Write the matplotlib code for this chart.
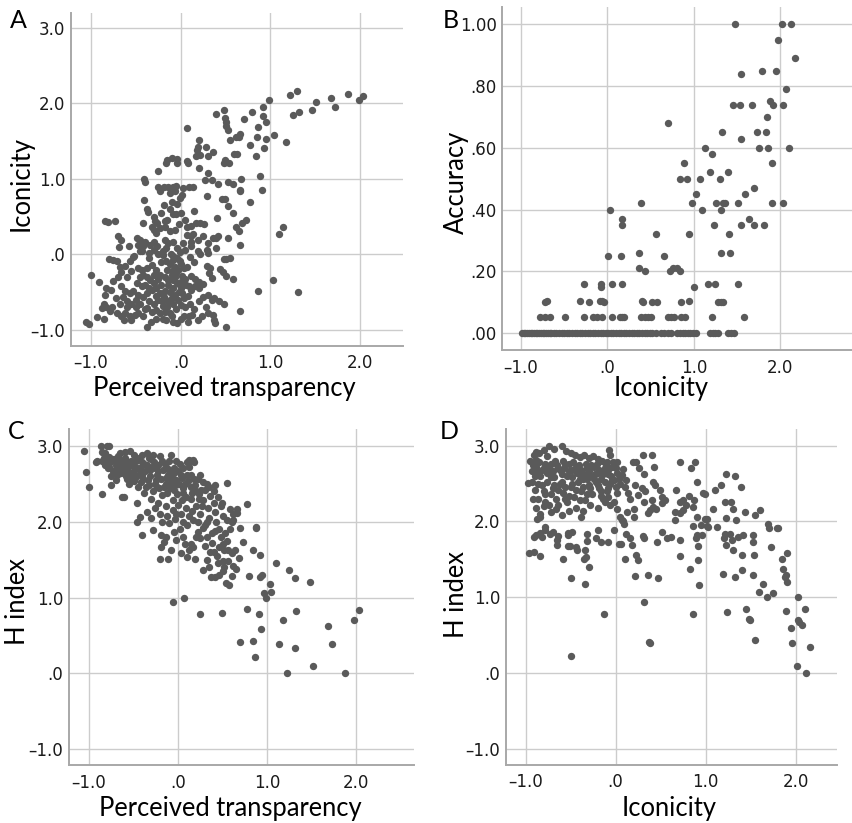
import numpy as np
import matplotlib
matplotlib.use("Agg")
import matplotlib.pyplot as plt

# ---- data ----
# A: Iconicity vs Perceived transparency
a_pts = [
    (-0.41, 1.00), (-0.25, 1.10), (-0.16, 1.21), (-0.15, 1.25), (-0.10, 1.28), (-0.04, 1.27), (-0.04, 1.21),
    (0.07, 1.68), (0.07, 1.24), (0.08, 1.21), (0.20, 1.52), (0.19, 1.43), (0.18, 1.39), (0.17, 1.31), (0.22, 1.32),
    (0.28, 1.42), (0.30, 1.31), (0.36, 1.36), (0.21, 1.14), (0.31, 1.08), (0.27, 0.98), (0.35, 0.99), (0.42, 0.93),
    (0.39, 1.86), (0.48, 1.91), (0.49, 1.81), (0.51, 1.75), (0.51, 1.70), (0.53, 1.65), (0.55, 1.52), (0.62, 1.55),
    (0.65, 1.56), (0.66, 1.59), (0.59, 1.33), (0.63, 1.33), (0.48, 1.21), (0.50, 1.25), (0.54, 1.21), (0.53, 0.96),
    (0.58, 0.93), (0.67, 1.00), (0.71, 1.79), (0.80, 1.89), (0.77, 1.45), (0.84, 1.31), (0.85, 1.56), (0.86, 1.69),
    (0.88, 1.04), (0.92, 1.95), (0.92, 1.84), (0.95, 1.75), (0.98, 2.04), (0.95, 1.53), (0.93, 1.41), (1.04, 1.58),
    (1.17, 1.49), (1.22, 2.11), (1.30, 2.17), (1.25, 1.85), (1.32, 1.89), (1.47, 1.91), (1.51, 2.02), (1.68, 2.07),
    (1.72, 1.96), (1.87, 2.12), (1.99, 2.04), (2.03, 2.10),
    (-0.40, 0.96), (-0.25, 0.89), (-0.19, 0.89), (-0.14, 0.90), (-0.09, 0.89), (-0.05, 0.91), (0.03, 0.88),
    (0.09, 0.89), (0.14, 0.89), (0.66, 0.86), (0.91, 0.86),
    (-0.23, 0.84), (-0.12, 0.81), (-0.06, 0.84), (0.02, 0.79), (-0.01, 0.75), (0.29, 0.77), (0.46, 0.73),
    (0.49, 0.73), (0.66, 0.84), (0.77, 0.70), (-0.41, 0.72), (-0.19, 0.66), (-0.10, 0.70), (-0.04, 0.67),
    (-0.36, 0.56), (-0.08, 0.53), (-0.05, 0.53), (0.15, 0.57), (0.40, 0.48), (0.53, 0.64), (0.58, 0.55),
    (-0.84, 0.44), (-0.81, 0.43), (-0.73, 0.44), (-0.42, 0.42), (-0.29, 0.44), (-0.26, 0.42), (-0.32, 0.37),
    (-0.30, 0.33), (-0.23, 0.35), (-0.27, 0.28), (-0.17, 0.44), (-0.15, 0.46), (-0.17, 0.37), (-0.12, 0.31),
    (-0.06, 0.33), (0.07, 0.37), (0.12, 0.38), (0.17, 0.42), (0.22, 0.42), (0.26, 0.40), (0.07, 0.26), (0.12, 0.24),
    (0.14, 0.27), (0.12, 0.17), (0.19, 0.19), (0.36, 0.22), (0.39, 0.22), (0.42, 0.24), (0.53, 0.22), (0.62, 0.37),
    (0.68, 0.42), (0.73, 0.46), (0.65, 0.31), (0.66, 0.12), (1.10, 0.27), (1.14, 0.37),
    (-0.70, 0.25), (-0.66, 0.19), (-0.69, 0.10), (-0.58, 0.11), (-0.49, 0.22), (-0.45, 0.19), (-0.40, 0.17),
    (-0.47, 0.13), (-0.42, 0.11), (-0.30, 0.17), (-0.34, 0.13), (-0.26, 0.11), (-0.30, 0.06), (-0.17, 0.19),
    (-0.14, 0.15), (-0.16, 0.08), (-0.08, 0.17), (-0.04, 0.08), (0.03, 0.15), (0.05, 0.06), (0.11, 0.11),
    (0.19, 0.04), (0.22, 0.00), (0.29, 0.06), (0.31, 0.02), (0.39, 0.08), (0.48, -0.06), (0.51, -0.06), (0.55, -0.05),
    (-0.38, 0.60), (-0.43, 0.04), (-0.52, -0.02), (-0.35, 0.02), (-0.20, -0.01), (-0.25, 0.00), (-0.11, 0.00),
    (-0.01, 0.03), (0.10, -0.04), (0.15, -0.10),
    (-0.80, -0.06), (-0.75, -0.07), (-0.71, -0.09), (-0.68, -0.16), (-0.66, -0.23), (-0.57, -0.09), (-0.53, -0.04),
    (-0.48, -0.18), (-0.43, -0.20), (-0.38, -0.18), (-0.42, -0.27), (-0.32, -0.14), (-0.27, -0.20), (-0.30, -0.27),
    (-0.23, -0.27), (-0.16, -0.09), (-0.12, -0.12), (-0.08, -0.07), (-0.04, -0.05), (-0.01, -0.09), (-0.06, -0.17),
    (-0.10, -0.22), (-0.03, -0.20), (0.04, -0.18), (0.07, -0.16), (0.12, -0.29), (0.16, -0.33), (0.21, -0.36),
    (0.25, -0.39), (0.29, -0.15), (0.33, -0.18), (0.32, -0.25), (0.35, -0.31), (0.44, -0.19), (0.47, -0.23),
    (0.51, -0.29), (0.58, -0.33), (1.03, -0.34),
    (0.00, -0.36), (0.02, -0.29), (-0.08, -0.34), (-0.14, -0.34), (-0.10, -0.27), (-0.05, -0.25), (-0.18, -0.30),
    (0.05, -0.33),
    (-1.00, -0.27), (-0.91, -0.37), (-0.83, -0.45), (-0.78, -0.47), (-0.84, -0.54), (-0.86, -0.65), (-0.83, -0.69),
    (-0.77, -0.69), (-0.66, -0.42), (-0.62, -0.49), (-0.57, -0.51), (-0.53, -0.49), (-0.64, -0.56), (-0.60, -0.61),
    (-0.49, -0.38), (-0.43, -0.42), (-0.47, -0.54), (-0.42, -0.57), (-0.37, -0.51), (-0.34, -0.34), (-0.30, -0.38),
    (-0.32, -0.47), (-0.27, -0.45), (-0.23, -0.51), (-0.19, -0.56), (-0.21, -0.62), (-0.16, -0.60),
    (-0.14, -0.40), (-0.08, -0.44), (-0.04, -0.38), (-0.01, -0.40), (-0.10, -0.58), (-0.06, -0.54), (-0.03, -0.60),
    (0.01, -0.51), (0.04, -0.58), (0.09, -0.42), (0.12, -0.47), (0.16, -0.42), (0.21, -0.45), (0.25, -0.56),
    (0.31, -0.54), (0.35, -0.60), (0.37, -0.58), (0.43, -0.62), (0.48, -0.65), (0.86, -0.49), (1.31, -0.50),
    (0.66, -0.75),
    (-0.55, -0.65), (-0.50, -0.70), (-0.45, -0.66), (-0.40, -0.72), (-0.35, -0.62), (-0.30, -0.66), (-0.25, -0.60),
    (-0.20, -0.68), (-0.15, -0.70), (-0.09, -0.66), (-0.05, -0.72), (0.00, -0.67), (0.05, -0.70), (0.10, -0.65),
    (0.15, -0.72), (0.20, -0.62), (0.28, -0.70), (0.30, -0.78), (0.24, -0.82), (-0.72, -0.58), (-0.75, -0.35),
    (-0.70, -0.30), (-0.60, -0.30), (-0.55, -0.22), (-0.62, -0.15),
    (-0.88, -0.71), (-0.79, -0.75), (-0.71, -0.78), (-0.66, -0.81), (-0.93, -0.83), (-0.86, -0.85), (-1.05, -0.89),
    (-1.02, -0.92), (-0.62, -0.78), (-0.57, -0.82), (-0.51, -0.80), (-0.47, -0.78), (-0.42, -0.82), (-0.63, -0.87),
    (-0.55, -0.87), (-0.38, -0.96), (-0.37, -0.71), (-0.32, -0.76), (-0.27, -0.73), (-0.23, -0.78), (-0.17, -0.76),
    (-0.12, -0.78), (-0.16, -0.87), (-0.08, -0.89), (-0.04, -0.91), (-0.10, -0.82), (0.04, -0.81), (0.09, -0.82),
    (0.13, -0.80), (0.19, -0.87), (0.36, -0.80), (0.38, -0.91), (0.37, -0.87), (0.51, -0.96),
    (-0.45, -0.30), (-0.40, -0.40), (-0.35, -0.45), (-0.28, -0.55), (-0.22, -0.40), (-0.18, -0.48), (-0.12, -0.50),
    (-0.06, -0.30), (0.00, -0.45), (0.06, -0.40), (-0.25, -0.32), (-0.38, -0.30), (-0.50, -0.60), (-0.60, -0.70),
    (-0.68, -0.66), (-0.20, -0.85), (-0.28, -0.85), (-0.33, -0.90), (0.00, -0.85), (0.08, -0.90), (-0.13, -0.62),
    (-0.02, -0.50), (0.08, -0.55), (-0.15, -0.20), (-0.22, -0.10), (-0.35, -0.05), (-0.45, 0.05), (-0.20, 0.05),
    (-0.08, -0.02), (0.00, -0.12), (-0.30, 0.50), (-0.22, 0.55), (-0.12, 0.60), (0.00, 0.55), (0.05, 0.45),
    (-0.02, 0.40), (0.25, 0.25), (0.30, 0.15),
]

# B: Accuracy vs Iconicity
b_pts = [
    (1.48, 1.00), (2.02, 1.00), (2.12, 1.00), (1.97, 0.95), (2.17, 0.89), (1.55, 0.84), (1.79, 0.85), (1.95, 0.85),
    (2.07, 0.79), (1.45, 0.74), (1.53, 0.74), (1.67, 0.74), (1.88, 0.75), (1.91, 0.74), (2.03, 0.74), (1.85, 0.70),
    (0.70, 0.68), (1.33, 0.65), (1.73, 0.65), (1.84, 0.65), (1.54, 0.63), (1.13, 0.60), (1.75, 0.60), (1.86, 0.60),
    (2.10, 0.60), (1.21, 0.58), (0.89, 0.55), (1.90, 0.55), (0.84, 0.50), (0.92, 0.50), (1.07, 0.50), (1.30, 0.50),
    (1.19, 0.52), (1.39, 0.52), (1.69, 0.47), (1.03, 0.45), (1.59, 0.45), (0.03, 0.40), (0.39, 0.42), (0.98, 0.42),
    (1.09, 0.40), (1.26, 0.42), (1.31, 0.40), (1.34, 0.42), (1.36, 0.42), (1.51, 0.42), (1.90, 0.42), (2.03, 0.42),
    (1.23, 0.35), (1.41, 0.32), (1.55, 0.35), (1.64, 0.37), (1.69, 0.35), (1.81, 0.35), (0.17, 0.37), (0.17, 0.35),
    (0.56, 0.32), (0.94, 0.32), (0.01, 0.25), (0.16, 0.25), (0.37, 0.26), (1.31, 0.26), (1.42, 0.26), (0.66, 0.25),
    (0.37, 0.21), (0.43, 0.20), (0.72, 0.20), (0.76, 0.21), (0.80, 0.21), (0.84, 0.20),
    (1.00, 0.15), (-0.27, 0.16), (-0.07, 0.15), (-0.07, 0.16), (0.05, 0.16), (0.17, 0.16), (1.16, 0.16),
    (1.24, 0.16), (1.51, 0.16),
    (-0.32, 0.105), (-0.21, 0.10), (-0.09, 0.105), (-0.06, 0.105), (-0.04, 0.10), (-0.72, 0.10), (-0.70, 0.105),
    (0.40, 0.105), (0.41, 0.10), (0.51, 0.10), (0.57, 0.10), (0.85, 0.10), (0.94, 0.105), (1.28, 0.10),
    (1.31, 0.10), (1.34, 0.10),
]
b_row05 = [-0.78, -0.72, -0.67, -0.49, -0.27, -0.17, -0.12, -0.06, 0.05, 0.14, 0.17, 0.19, 0.39, 0.43, 0.47,
           0.50, 0.70, 0.74, 0.77, 0.85, 0.90, 1.21, 1.58]
b_row00 = [-0.99, -0.97, -0.95, -0.93, -0.91, -0.89, -0.87, -0.85, -0.83, -0.81, -0.79, -0.77, -0.75, -0.73,
           -0.71, -0.69, -0.67, -0.65, -0.62, -0.59, -0.56, -0.53, -0.50, -0.47, -0.44, -0.41, -0.38, -0.35,
           -0.32, -0.29, -0.26, -0.23, -0.20, -0.17, -0.14, -0.11, -0.08, -0.05, -0.02, 0.01, 0.04, 0.07, 0.10,
           0.13, 0.16, 0.19, 0.22, 0.25, 0.28, 0.31, 0.34, 0.37, 0.40, 0.43, 0.46, 0.49, 0.52, 0.56, 0.62, 0.66,
           0.70, 0.73, 0.81, 0.84, 0.87, 0.90, 0.93, 0.96, 0.99, 1.02, 1.19, 1.22, 1.25, 1.28, 1.40, 1.43, 1.46]

# C: H index vs Perceived transparency
c_pts = [
    (-1.06, 2.93), (-1.03, 2.65), (-1.00, 2.46), (-0.92, 2.78), (-0.91, 2.80), (-0.86, 3.00), (-0.80, 3.00),
    (-0.77, 2.99), (-0.85, 2.92), (-0.82, 2.90), (-0.85, 2.36), (-0.75, 2.48), (-0.63, 2.33), (-0.61, 2.33),
    (-0.65, 2.90), (-0.60, 2.92), (-0.54, 2.93),
    (-0.85, 2.80), (-0.82, 2.74), (-0.79, 2.70), (-0.76, 2.78), (-0.73, 2.66), (-0.70, 2.74), (-0.68, 2.62),
    (-0.66, 2.70), (-0.63, 2.78), (-0.61, 2.66), (-0.58, 2.60), (-0.56, 2.72), (-0.53, 2.80), (-0.51, 2.65),
    (-0.48, 2.58), (-0.46, 2.70), (-0.44, 2.84), (-0.42, 2.52), (-0.40, 2.62), (-0.38, 2.76), (-0.36, 2.45),
    (-0.34, 2.55), (-0.32, 2.68), (-0.30, 2.82), (-0.28, 2.40), (-0.26, 2.50), (-0.24, 2.62), (-0.22, 2.74),
    (-0.20, 2.86), (-0.18, 2.35), (-0.16, 2.46), (-0.14, 2.58), (-0.12, 2.70), (-0.10, 2.80), (-0.08, 2.88),
    (-0.06, 2.28), (-0.04, 2.42), (-0.02, 2.55), (0.00, 2.66), (0.02, 2.76), (0.05, 2.38), (0.08, 2.50),
    (0.10, 2.62), (0.12, 2.72), (0.15, 2.45), (0.18, 2.56), (0.20, 2.40), (-0.75, 2.60), (-0.70, 2.55),
    (-0.55, 2.50), (-0.50, 2.88), (-0.40, 2.88), (-0.35, 2.90), (-0.28, 2.88), (-0.24, 2.45), (-0.12, 2.38),
    (-0.08, 2.52), (-0.04, 2.64), (0.04, 2.58), (0.10, 2.78), (0.13, 2.80), (-0.60, 2.84), (-0.66, 2.82),
    (-0.72, 2.83), (-0.78, 2.85), (-0.57, 2.56), (-0.45, 2.45), (-0.38, 2.38), (-0.30, 2.30), (-0.22, 2.25),
    (-0.14, 2.20), (0.42, 2.48), (0.32, 2.50), (0.25, 2.61), (0.18, 2.79), (0.12, 2.81), (0.17, 2.81),
    (0.49, 2.24), (0.58, 2.17), (0.62, 2.02),
    (-0.83, 2.84), (-0.80, 2.78), (-0.77, 2.72), (-0.74, 2.82), (-0.71, 2.68), (-0.69, 2.78), (-0.67, 2.86),
    (-0.64, 2.64), (-0.62, 2.74), (-0.59, 2.80), (-0.57, 2.68), (-0.54, 2.76), (-0.52, 2.58), (-0.49, 2.72),
    (-0.47, 2.80), (-0.45, 2.62), (-0.43, 2.70), (-0.41, 2.78), (-0.39, 2.56), (-0.37, 2.66), (-0.35, 2.74),
    (-0.33, 2.48), (-0.31, 2.60), (-0.29, 2.72), (-0.27, 2.78), (-0.25, 2.55), (-0.23, 2.66), (-0.21, 2.44),
    (-0.19, 2.56), (-0.17, 2.68), (-0.15, 2.76), (-0.13, 2.50), (-0.11, 2.62), (-0.09, 2.44), (-0.07, 2.58),
    (-0.05, 2.70), (-0.03, 2.48), (-0.01, 2.36), (0.01, 2.50), (0.03, 2.62), (0.06, 2.44), (0.09, 2.32),
    (0.11, 2.54), (0.14, 2.62), (0.16, 2.38), (0.19, 2.48), (0.22, 2.56), (0.24, 2.30), (0.26, 2.42),
    (-0.65, 2.76), (-0.55, 2.64), (-0.50, 2.54), (-0.42, 2.66), (-0.33, 2.84), (-0.26, 2.70), (-0.18, 2.80),
    (-0.10, 2.68), (-0.02, 2.80), (0.06, 2.70),
    (-0.46, 2.25), (-0.43, 2.06), (-0.46, 2.00), (-0.35, 2.12), (-0.30, 2.05), (-0.26, 2.18), (-0.20, 2.10),
    (-0.18, 2.00), (-0.12, 2.08), (-0.10, 1.98), (-0.06, 2.15), (-0.03, 2.04), (0.00, 2.22), (0.03, 2.10),
    (0.06, 2.00), (0.09, 2.18), (0.12, 2.08), (0.14, 2.30), (0.17, 2.02), (0.20, 2.20), (0.23, 2.36),
    (0.25, 2.10), (0.28, 2.28), (0.30, 2.42), (0.32, 2.00), (0.34, 2.18), (0.36, 2.34), (0.40, 2.25),
    (0.42, 2.12), (0.45, 2.32), (0.48, 2.20), (0.50, 2.08), (0.55, 2.51), (0.66, 2.17), (0.66, 2.11),
    (0.77, 2.23), (0.60, 2.00), (0.62, 2.10), (0.55, 2.02), (0.40, 2.40), (0.35, 2.46), (0.28, 2.52),
    (-0.02, 2.10), (0.04, 2.28), (0.10, 1.95), (0.16, 2.14), (0.22, 2.00), (0.27, 2.20), (0.30, 1.95),
    (0.35, 2.05), (0.38, 1.85), (0.43, 2.00), (0.46, 1.90), (0.50, 1.70), (0.53, 1.85), (0.56, 1.62),
    (0.40, 1.60), (0.33, 1.50), (0.45, 1.45), (0.50, 1.35), (0.56, 1.48), (0.62, 1.42), (0.68, 1.52),
    (0.35, 1.40), (0.20, 1.80), (0.12, 1.62), (-0.08, 1.62), (0.03, 1.58),
    (-0.40, 1.83), (-0.28, 1.89), (-0.19, 1.82), (-0.19, 1.67), (-0.20, 1.51), (-0.11, 1.51), (-0.16, 1.73),
    (-0.13, 1.80), (-0.05, 1.86), (-0.02, 1.76), (0.02, 1.90), (0.05, 1.80), (0.08, 1.70), (0.10, 1.54),
    (0.19, 1.51), (0.17, 1.67), (0.15, 1.71), (0.22, 1.86), (0.25, 1.78), (0.28, 1.92), (0.30, 1.68),
    (0.33, 1.80), (0.36, 1.60), (0.38, 1.72), (0.41, 1.88), (0.44, 1.55), (0.46, 1.66), (0.48, 1.80),
    (0.50, 1.48), (0.52, 1.62), (0.55, 1.75), (0.58, 1.90), (0.60, 1.58), (0.52, 1.40), (0.64, 1.62),
    (0.73, 1.73), (0.70, 1.92), (0.84, 1.62), (0.88, 1.91), (0.87, 1.93), (0.92, 1.56), (0.28, 1.36),
    (0.37, 1.27), (0.41, 1.27), (0.46, 1.30), (0.54, 1.19), (0.57, 1.17), (0.60, 1.29), (0.65, 1.37),
    (0.80, 1.28), (0.92, 1.27), (0.94, 1.30), (1.03, 1.18), (1.04, 1.07), (0.97, 1.06), (0.99, 1.00),
    (1.10, 1.46), (1.25, 1.36), (1.31, 1.26), (1.48, 1.20), (-0.06, 0.94), (0.07, 1.00), (0.25, 0.78),
    (0.49, 0.80), (0.77, 0.85), (0.91, 0.78), (1.18, 0.71), (1.32, 0.82), (2.03, 0.84), (1.98, 0.70),
    (0.93, 0.58), (0.70, 0.41), (0.84, 0.43), (0.86, 0.21), (1.13, 0.39), (1.31, 0.34), (1.22, 0.00),
    (1.52, 0.10), (1.68, 0.63), (1.73, 0.39), (1.87, 0.00),
]

# D: H index vs Iconicity
d_pts = [
    (-0.97, 2.51), (-0.93, 2.52), (-0.89, 2.92), (-0.91, 2.88), (-0.89, 2.81), (-0.85, 2.90), (-0.74, 3.00),
    (-0.60, 3.00), (-0.80, 2.94), (-0.68, 2.96), (-0.55, 2.93), (-0.50, 2.90), (-0.45, 2.87), (-0.40, 2.85),
    (-0.35, 2.88), (-0.30, 2.84), (-0.25, 2.86), (-0.20, 2.82), (-0.15, 2.80), (-0.10, 2.78), (-0.07, 2.94),
    (-0.06, 2.88),
    (-0.93, 2.66), (-0.88, 2.72), (-0.84, 2.60), (-0.80, 2.70), (-0.76, 2.64), (-0.72, 2.76), (-0.68, 2.58),
    (-0.64, 2.70), (-0.60, 2.62), (-0.56, 2.76), (-0.52, 2.66), (-0.48, 2.58), (-0.44, 2.72), (-0.40, 2.62),
    (-0.36, 2.56), (-0.32, 2.70), (-0.28, 2.60), (-0.24, 2.72), (-0.20, 2.64), (-0.16, 2.56), (-0.12, 2.70),
    (-0.08, 2.62), (-0.04, 2.72), (-0.02, 2.55), (0.02, 2.64), (0.05, 2.50),
    (-0.90, 2.42), (-0.86, 2.30), (-0.82, 2.48), (-0.78, 2.36), (-0.74, 2.22), (-0.70, 2.44), (-0.66, 2.30),
    (-0.62, 2.50), (-0.58, 2.38), (-0.54, 2.25), (-0.50, 2.46), (-0.46, 2.32), (-0.42, 2.52), (-0.38, 2.40),
    (-0.34, 2.28), (-0.30, 2.48), (-0.26, 2.36), (-0.22, 2.52), (-0.18, 2.44), (-0.14, 2.30), (-0.10, 2.40),
    (-0.06, 2.50), (-0.02, 2.26), (0.02, 2.38), (-0.88, 2.18), (-0.84, 2.10), (-0.80, 2.20), (-0.72, 2.12),
    (-0.66, 2.16), (-0.60, 2.08), (-0.52, 2.14), (-0.44, 2.18), (-0.36, 2.14), (-0.28, 2.22), (-0.20, 2.18),
    (-0.12, 2.26), (-0.06, 2.22),
    (-0.95, 2.80), (-0.92, 2.74), (-0.90, 2.60), (-0.87, 2.66), (-0.85, 2.78), (-0.82, 2.68), (-0.78, 2.76),
    (-0.76, 2.86), (-0.74, 2.70), (-0.72, 2.58), (-0.70, 2.66), (-0.67, 2.80), (-0.65, 2.74), (-0.62, 2.68),
    (-0.59, 2.80), (-0.57, 2.70), (-0.54, 2.60), (-0.52, 2.76), (-0.49, 2.68), (-0.47, 2.78), (-0.43, 2.64),
    (-0.41, 2.74), (-0.38, 2.68), (-0.35, 2.62), (-0.33, 2.76), (-0.30, 2.66), (-0.27, 2.74), (-0.23, 2.62),
    (-0.21, 2.76), (-0.18, 2.68), (-0.14, 2.62), (-0.11, 2.74), (-0.08, 2.68), (-0.05, 2.60), (-0.03, 2.78),
    (0.00, 2.70), (-0.86, 2.50), (-0.80, 2.40), (-0.76, 2.52), (-0.72, 2.36), (-0.68, 2.48), (-0.64, 2.42),
    (-0.60, 2.52), (-0.56, 2.46), (-0.52, 2.34), (-0.48, 2.50), (-0.44, 2.42), (-0.40, 2.56), (-0.36, 2.46),
    (-0.32, 2.56), (-0.28, 2.44), (-0.24, 2.56), (-0.20, 2.48), (-0.16, 2.40), (-0.12, 2.52), (-0.08, 2.44),
    (-0.04, 2.54), (0.00, 2.46), (0.04, 2.56), (-0.92, 2.30), (-0.78, 2.26), (-0.64, 2.22), (-0.56, 2.30),
    (-0.40, 2.28), (-0.32, 2.36), (-0.16, 2.34), (-0.08, 2.32),
    (0.30, 2.87), (0.40, 2.88), (0.19, 2.79), (0.23, 2.78), (0.43, 2.72), (0.41, 2.52), (0.44, 2.48),
    (0.31, 2.63), (0.29, 2.44), (0.49, 2.41), (0.51, 2.32), (0.55, 2.28), (0.40, 2.28), (0.42, 2.19),
    (0.36, 2.11), (0.38, 2.15), (0.31, 2.26), (0.25, 2.35), (0.20, 2.17), (0.20, 2.06), (0.14, 2.37),
    (0.12, 2.55), (0.08, 2.69), (0.07, 2.61), (0.05, 2.06), (0.08, 2.00), (0.67, 2.41), (0.71, 2.25),
    (0.75, 2.28), (0.78, 2.22), (0.82, 2.33), (0.86, 2.19), (0.87, 2.28), (0.90, 2.06), (0.71, 2.79),
    (0.88, 2.79), (0.84, 2.70), (0.90, 2.52), (0.75, 2.15), (0.72, 2.11), (0.97, 2.38), (0.99, 2.36),
    (1.02, 2.03), (1.01, 1.94), (1.08, 2.16), (1.10, 2.41), (1.17, 2.48), (1.23, 2.62), (1.33, 2.60),
    (1.39, 2.45), (1.21, 2.26), (1.28, 2.26), (1.30, 2.16), (1.23, 2.05), (1.44, 2.13), (1.55, 2.08),
    (1.60, 2.15), (0.66, 2.13), (0.51, 2.24), (0.45, 2.16), (0.02, 2.78), (0.10, 2.45), (0.16, 2.30),
    (0.22, 2.48), (0.26, 2.70), (0.33, 2.40), (0.13, 2.12), (0.02, 2.16),
    (-0.96, 1.59), (-0.91, 1.60), (-0.84, 1.54), (-0.91, 1.79), (-0.89, 1.82), (-0.84, 1.85), (-0.82, 1.79),
    (-0.87, 2.03), (-0.84, 2.06), (-0.79, 1.89), (-0.78, 1.93), (-0.73, 1.84), (-0.70, 1.86), (-0.64, 1.81),
    (-0.65, 1.75), (-0.65, 1.69), (-0.59, 1.51), (-0.53, 1.82), (-0.53, 1.85), (-0.49, 1.86), (-0.53, 1.67),
    (-0.51, 1.67), (-0.50, 1.26), (-0.44, 1.66), (-0.43, 1.63), (-0.34, 1.18), (-0.33, 1.53), (-0.35, 1.50),
    (-0.30, 1.40), (-0.34, 1.62), (-0.32, 1.74), (-0.38, 2.06), (-0.32, 1.84), (-0.20, 1.89), (-0.22, 1.78),
    (-0.16, 1.73), (-0.13, 0.78), (-0.08, 1.73), (-0.02, 1.89), (0.04, 1.70), (0.06, 1.70), (0.07, 2.02),
    (0.09, 1.97), (0.10, 1.51), (0.12, 1.84), (0.16, 1.78), (0.18, 1.69), (0.21, 1.28), (0.23, 1.56),
    (0.25, 1.49), (0.30, 1.81), (0.31, 1.78), (0.31, 0.94), (0.36, 1.30), (0.47, 1.26), (0.46, 1.73),
    (0.52, 1.86), (0.57, 1.78), (0.62, 1.80), (0.66, 2.02), (0.71, 1.76), (0.71, 1.54), (0.83, 1.37),
    (0.86, 0.78), (0.86, 1.94), (0.89, 1.78), (0.90, 1.82), (0.92, 1.67), (0.92, 1.49), (0.93, 1.16),
    (0.95, 1.95), (0.96, 1.82), (0.99, 2.03), (1.03, 1.93), (1.13, 1.93), (1.19, 1.31), (1.20, 1.78),
    (1.22, 1.84), (1.23, 1.69), (1.24, 0.81), (1.27, 1.84), (1.29, 1.75), (1.31, 1.62), (1.33, 1.27),
    (1.34, 2.02), (1.36, 1.80), (1.42, 1.82), (1.41, 1.56), (1.41, 1.36), (1.45, 0.85), (1.49, 0.70),
    (1.53, 1.82), (1.53, 1.73), (1.54, 1.56), (1.53, 1.30), (1.59, 1.07), (1.64, 1.18), (1.68, 1.00),
    (1.69, 1.97), (1.70, 1.91), (1.73, 1.66), (1.75, 1.06), (1.79, 1.92), (1.81, 1.92), (1.85, 1.51),
    (1.86, 1.37), (1.88, 1.27), (1.91, 1.20), (1.89, 1.29), (1.91, 1.59), (1.89, 0.82), (2.03, 1.00),
    (2.10, 0.84), (2.03, 0.70),
    (-0.50, 0.22), (0.37, 0.41), (0.38, 0.40), (1.48, 0.71), (1.55, 0.44), (1.95, 0.59), (2.04, 0.68),
    (2.07, 0.63), (1.96, 0.40), (2.16, 0.34), (2.02, 0.10), (2.12, 0.00),
]

x_ticks = [-1.0, 0.0, 1.0, 2.0]
x_ticklabels = ["–1.0", ".0", "1.0", "2.0"]
h_ticks = [-1.0, 0.0, 1.0, 2.0, 3.0]
h_ticklabels = ["–1.0", ".0", "1.0", "2.0", "3.0"]
acc_ticks = [0.0, 0.2, 0.4, 0.6, 0.8, 1.0]
acc_ticklabels = [".00", ".20", ".40", ".60", ".80", "1.00"]

DOT = "#5a5a5a"
GRID = "#cccccc"
SPINE = "#a8a8a8"
LABEL_FONT = ["Lato", "DejaVu Sans"]
LABEL_SIZE = 18.4
DOT_SIZE = 28

fig = plt.figure(figsize=(8.53, 8.23), dpi=100)


def style_axes(ax, xlim, ylim, yticks, yticklabels):
    ax.set_xlim(*xlim)
    ax.set_ylim(*ylim)
    ax.set_xticks(x_ticks)
    ax.set_xticklabels(x_ticklabels)
    ax.set_yticks(yticks)
    ax.set_yticklabels(yticklabels)
    ax.grid(True, color=GRID, lw=1.0)
    ax.set_axisbelow(True)
    for s in ("top", "right"):
        ax.spines[s].set_visible(False)
    for s in ("left", "bottom"):
        ax.spines[s].set_color(SPINE)
        ax.spines[s].set_linewidth(1.4)
    ax.tick_params(length=0, labelsize=12, colors="#1a1a1a")
    ax.tick_params(axis="x", pad=6)
    ax.tick_params(axis="y", pad=4)


def scatter(ax, pts):
    arr = np.array(pts)
    ax.scatter(arr[:, 0], arr[:, 1], s=DOT_SIZE, color=DOT, linewidths=0, zorder=3)


def labels(ax, xlabel, xpos, ylabel, ypos):
    ax.text(xpos[0], xpos[1], xlabel, transform=ax.transAxes, ha="center", va="center",
            fontsize=LABEL_SIZE, family=LABEL_FONT)
    ax.text(ypos[0], ypos[1], ylabel, transform=ax.transAxes, ha="center", va="center", rotation=90,
            fontsize=LABEL_SIZE, family=LABEL_FONT)


# panel A
axA = fig.add_axes([0.0832, 0.5800, 0.3889, 0.4046])
style_axes(axA, (-1.223, 2.476), (-1.208, 3.203), h_ticks, h_ticklabels)
scatter(axA, a_pts)
labels(axA, "Perceived transparency", (0.463, -0.128), "Iconicity", (-0.149, 0.486))

# panel B
axB = fig.add_axes([0.5889, 0.5744, 0.4100, 0.4167])
style_axes(axB, (-1.216, 2.83), (-0.056, 1.055), acc_ticks, acc_ticklabels)
scatter(axB, b_pts)
axB.scatter(b_row05, [0.053] * len(b_row05), s=DOT_SIZE, color=DOT, linewidths=0, zorder=3)
axB.scatter(b_row00, [0.0] * len(b_row00), s=DOT_SIZE, color=DOT, linewidths=0, zorder=3)
labels(axB, "Iconicity", (0.454, -0.112), "Accuracy", (-0.130, 0.491))

# panel C
axC = fig.add_axes([0.0805, 0.0701, 0.4048, 0.4083])
style_axes(axC, (-1.228, 2.648), (-1.21, 3.216), h_ticks, h_ticklabels)
scatter(axC, c_pts)
labels(axC, "Perceived transparency", (0.469, -0.128), "H index", (-0.148, 0.487))

# panel D
axD = fig.add_axes([0.5928, 0.0705, 0.3880, 0.4080])
style_axes(axD, (-1.222, 2.456), (-1.21, 3.216), h_ticks, h_ticklabels)
scatter(axD, d_pts)
labels(axD, "Iconicity", (0.493, -0.131), "H index", (-0.150, 0.508))

# panel letters
for letter, x, y in [("A", 10, 28), ("B", 443, 28), ("C", 8, 439), ("D", 440, 439)]:
    fig.text(x / 853, 1 - y / 823, letter, ha="left", va="baseline", fontsize=18, family=LABEL_FONT)

fig.savefig("out.png", dpi=100, facecolor="white")
